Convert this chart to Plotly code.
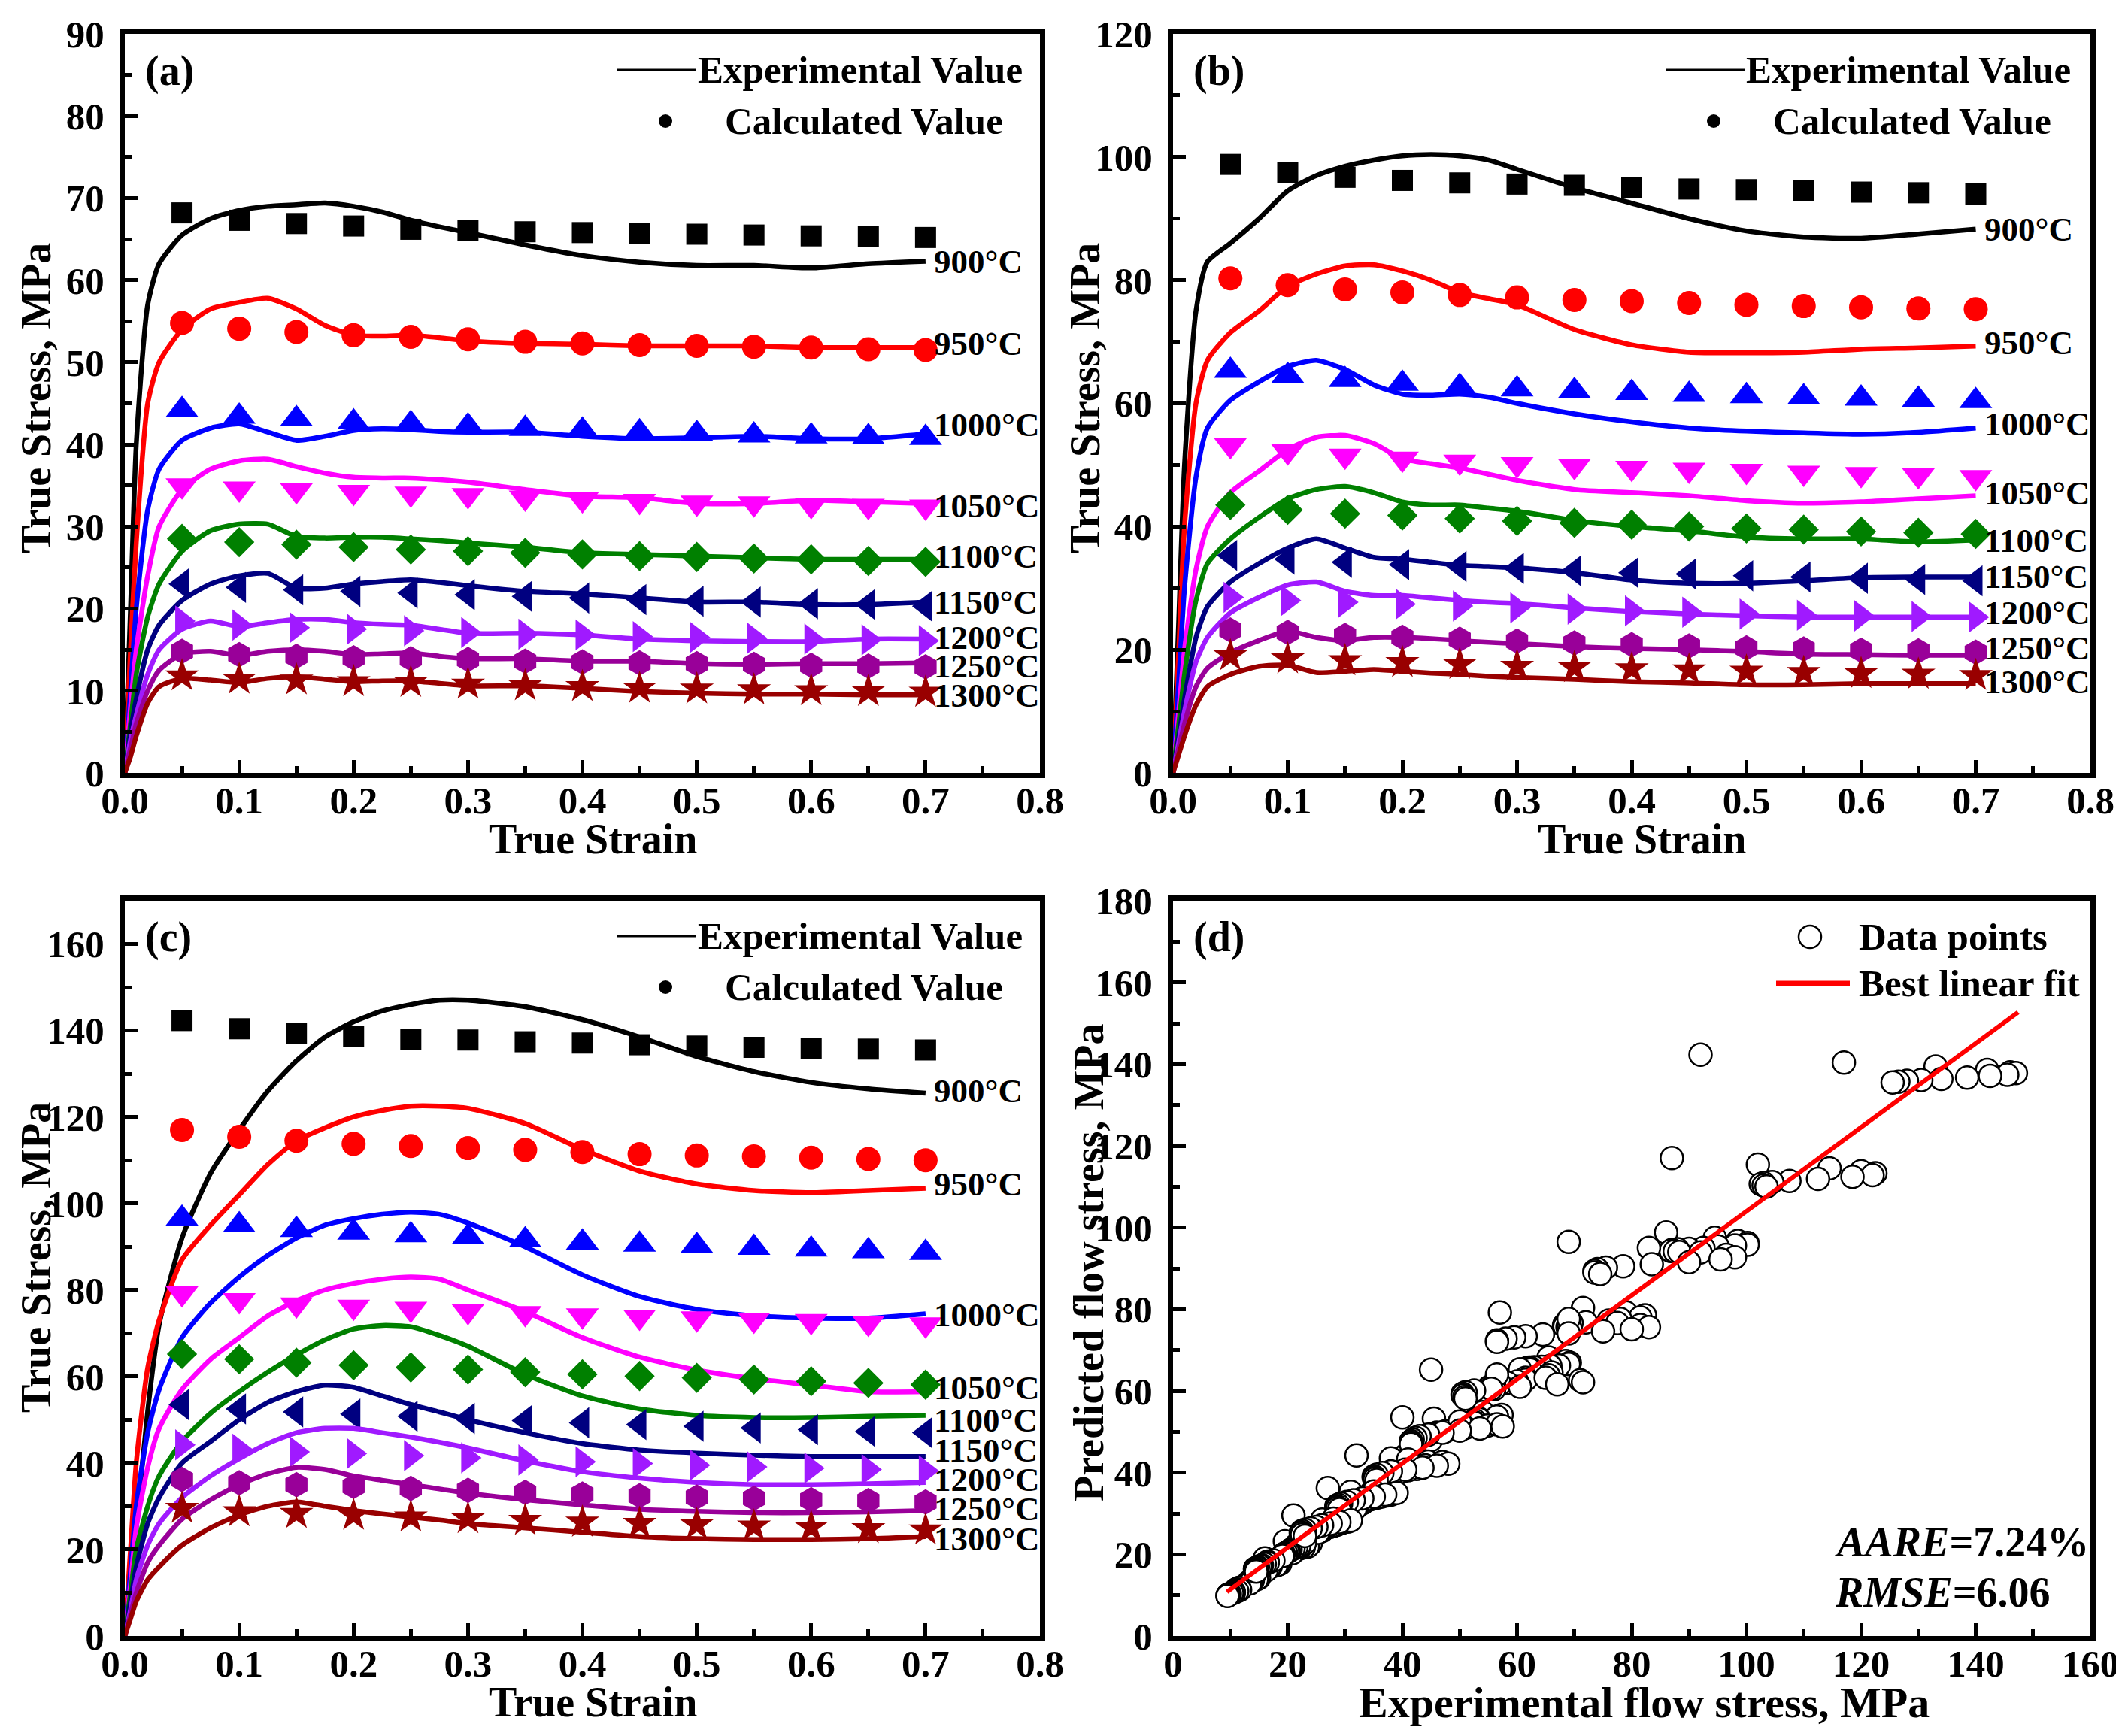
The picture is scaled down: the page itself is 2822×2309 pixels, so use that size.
import plotly.graph_objects as go

W, H = 2822, 2309

# strain grid of the experimental curves and strains of the calculated points
strain = [0, 0.005, 0.01, 0.02, 0.03, 0.05, 0.075, 0.1, 0.125, 0.15, 0.175, 0.2,
          0.225, 0.25, 0.275, 0.3, 0.35, 0.4, 0.45, 0.5, 0.55, 0.6, 0.65, 0.7]
calc_strain = [0.05, 0.1, 0.15, 0.2, 0.25, 0.3, 0.35, 0.4, 0.45, 0.5, 0.55, 0.6, 0.65, 0.7]

temps = ['900°C', '950°C', '1000°C', '1050°C', '1100°C', '1150°C', '1200°C', '1250°C', '1300°C']

# panel (a)
exp_a = [
    [0, 20, 40, 57, 62, 65.5, 67.5, 68.5, 69, 69.2, 69.4, 69, 68.3, 67.3, 66.5, 65.8, 64.3, 63, 62.2, 61.8, 61.8, 61.5, 62, 62.3],
    [0, 15, 28, 45, 50, 54, 56.5, 57.3, 57.8, 56.5, 54.5, 53.3, 53.2, 53.3, 53, 52.6, 52.3, 52.2, 52, 52, 52, 51.8, 51.8, 51.8],
    [0, 10, 20, 32, 37, 40.5, 42, 42.5, 41.5, 40.5, 41, 41.7, 41.9, 41.8, 41.6, 41.5, 41.5, 41, 40.7, 40.8, 41, 40.7, 40.7, 41.3],
    [0, 8, 15, 24, 30, 34.5, 37, 38, 38.2, 37.3, 36.5, 36, 35.9, 35.9, 35.7, 35.4, 34.5, 33.7, 33.5, 32.8, 32.8, 33.2, 33, 32.8],
    [0, 6, 12, 19, 23, 27, 29.5, 30.3, 30.3, 28.8, 28.6, 28.7, 28.7, 28.5, 28.3, 28, 27.5, 26.8, 26.6, 26.4, 26.2, 26, 26, 26],
    [0, 5, 9, 15, 18, 21, 23, 24, 24.3, 22.5, 22.5, 23, 23.3, 23.5, 23.2, 22.8, 22.1, 21.8, 21.3, 20.8, 20.8, 20.5, 20.5, 20.8],
    [0, 4, 7, 12, 15, 17.5, 18.5, 17.8, 18.3, 18.7, 18.7, 18.3, 18.1, 18, 17.5, 17, 17, 16.8, 16.3, 16.1, 16, 16, 16.3, 16.3],
    [0, 3, 6, 10, 12.5, 14.5, 14.8, 14.3, 14.8, 15, 14.8, 14.4, 14.5, 14.6, 14.2, 13.9, 13.9, 13.6, 13.6, 13.3, 13.2, 13.3, 13.3, 13.4],
    [0, 2, 4.5, 8.5, 10.5, 11.5, 11.3, 11, 11.5, 11.7, 11.4, 11.1, 11.2, 11.2, 10.9, 10.6, 10.6, 10.3, 9.9, 9.7, 9.6, 9.6, 9.5, 9.5],
]
calc_a = [
    [68.2, 67.3, 66.9, 66.6, 66.2, 66.1, 65.9, 65.8, 65.7, 65.6, 65.5, 65.4, 65.3, 65.2],
    [54.8, 54.1, 53.7, 53.3, 53.1, 52.8, 52.5, 52.3, 52.1, 52.0, 51.9, 51.8, 51.6, 51.5],
    [44.2, 43.4, 43.1, 42.7, 42.5, 42.2, 41.9, 41.7, 41.5, 41.3, 41.1, 41.0, 40.9, 40.8],
    [35.0, 34.6, 34.4, 34.2, 34.0, 33.8, 33.5, 33.3, 33.1, 32.9, 32.8, 32.6, 32.5, 32.4],
    [28.5, 28.1, 27.8, 27.5, 27.2, 27.0, 26.8, 26.6, 26.4, 26.3, 26.1, 26.0, 25.8, 25.7],
    [23.0, 22.6, 22.3, 22.1, 21.9, 21.7, 21.5, 21.3, 21.1, 20.9, 20.8, 20.6, 20.5, 20.3],
    [18.5, 18.0, 17.7, 17.5, 17.3, 17.1, 16.9, 16.8, 16.6, 16.5, 16.4, 16.3, 16.2, 16.1],
    [14.8, 14.4, 14.2, 14.0, 13.9, 13.8, 13.6, 13.5, 13.4, 13.3, 13.2, 13.1, 13.0, 12.9],
    [11.8, 11.4, 11.3, 11.1, 11.0, 10.8, 10.6, 10.5, 10.3, 10.2, 10.1, 10.0, 9.9, 9.8],
]
label_y_a = [62.3, 52.3, 42.4, 32.5, 26.4, 20.8, 16.5, 13.0, 9.4]

# panel (b)
exp_b = [
    [0, 25, 50, 75, 83, 86, 90, 94.5, 97, 98.5, 99.5, 100.2, 100.4, 100.2, 99.5, 98, 95, 92.5, 90, 88, 87, 86.8, 87.5, 88.3],
    [0, 20, 40, 60, 67, 71.5, 75, 79, 81, 82.3, 82.5, 81.5, 80, 78, 77, 76, 72, 69.5, 68.3, 68.2, 68.3, 68.8, 69, 69.3],
    [0, 15, 30, 48, 56, 60.5, 63.5, 66, 67, 65.5, 63, 61.5, 61.3, 61.5, 61, 60, 58.3, 57, 56, 55.5, 55.2, 55, 55.3, 56],
    [0, 10, 20, 33, 40, 45.5, 49, 52.5, 54.5, 54.8, 53.5, 51, 50.2, 49.5, 48.5, 47.5, 46, 45.5, 45, 44.2, 43.8, 44, 44.5, 45],
    [0, 8, 16, 28, 34, 38, 41.5, 44.5, 46, 46.5, 45.5, 44, 43.5, 43.5, 43, 42.5, 41, 40, 39.3, 38.3, 38, 38, 37.5, 37.8],
    [0, 6, 12, 22, 27, 31, 34, 36.5, 38, 36.5, 35, 34.7, 34.2, 33.7, 33.5, 33.3, 32.5, 31.3, 30.8, 30.8, 31.2, 31.7, 31.8, 31.8],
    [0, 5, 10, 18, 22, 26, 28.5, 30.5, 31, 29.5, 28.8, 28.8, 28.4, 28, 27.7, 27.5, 26.8, 26.2, 25.8, 25.5, 25.3, 25.3, 25.3, 25.3],
    [0, 4, 8, 14, 17, 19.5, 21.5, 23, 22, 21.5, 22, 22, 21.8, 21.5, 21.2, 21, 20.5, 20.2, 20, 19.7, 19.3, 19.2, 19.1, 19.1],
    [0, 3, 6, 11, 14, 16, 17.3, 17.5, 16.3, 16.5, 16.8, 16.5, 16.2, 16, 15.7, 15.5, 15.2, 14.8, 14.6, 14.3, 14.3, 14.5, 14.5, 14.5],
]
calc_b = [
    [98.8, 97.5, 96.7, 96.2, 95.8, 95.6, 95.4, 95.0, 94.8, 94.7, 94.5, 94.3, 94.2, 94.0],
    [80.3, 79.2, 78.5, 78.0, 77.6, 77.2, 76.8, 76.6, 76.3, 76.0, 75.8, 75.6, 75.4, 75.3],
    [65.3, 64.5, 63.8, 63.2, 62.7, 62.3, 62.0, 61.7, 61.4, 61.2, 61.0, 60.8, 60.6, 60.4],
    [53.2, 52.2, 51.5, 51.0, 50.5, 50.1, 49.8, 49.5, 49.2, 49.0, 48.7, 48.5, 48.3, 48.0],
    [43.5, 42.7, 42.1, 41.8, 41.3, 40.9, 40.6, 40.3, 40.0, 39.7, 39.5, 39.2, 39.0, 38.8],
    [35.3, 34.7, 34.2, 33.8, 33.5, 33.2, 32.8, 32.5, 32.3, 32.0, 31.8, 31.6, 31.4, 31.2],
    [28.5, 28.0, 27.7, 27.4, 27.1, 26.8, 26.6, 26.3, 26.1, 25.8, 25.6, 25.5, 25.4, 25.3],
    [23.2, 22.8, 22.3, 22.0, 21.7, 21.4, 21.1, 20.8, 20.6, 20.3, 20.1, 19.9, 19.8, 19.6],
    [19.0, 18.5, 18.2, 17.9, 17.6, 17.3, 17.1, 16.9, 16.7, 16.5, 16.3, 16.1, 16.0, 15.8],
]
label_y_b = [88.3, 69.8, 56.6, 45.4, 37.7, 31.9, 26.0, 20.3, 14.8]

# panel (c)
exp_c = [
    [0, 10, 25, 52, 72, 92, 107, 117, 126, 133, 138.5, 142, 144.5, 146, 147, 147, 145.5, 142.5, 138.5, 134, 130.5, 128, 126.5, 125.5],
    [0, 20, 40, 62, 73, 87, 95, 102, 109, 114.5, 117.5, 120, 121.5, 122.5, 122.5, 122, 118.5, 112.5, 107.5, 104.5, 103, 102.5, 103, 103.5],
    [0, 15, 30, 47, 57, 69, 77, 83, 88, 92, 95, 96.5, 97.5, 98, 97.5, 95.5, 90, 83.5, 78.5, 75.5, 74, 73.5, 73.5, 74.5],
    [0, 12, 25, 39, 48, 57, 64, 69, 74, 77.5, 80, 81.5, 82.5, 83, 82.5, 80, 75, 69, 64.5, 61.5, 59.5, 58, 56.5, 56.5],
    [0, 10, 20, 30, 37, 45, 51.5, 56.5, 61, 65, 68.5, 71, 71.8, 71.5, 69.5, 67, 60.5, 55.5, 52.5, 51, 50.5, 50.5, 50.8, 51],
    [0, 8, 16, 26, 32, 40, 45, 50, 54, 56.5, 58, 57.5, 55.5, 53.5, 51.8, 50, 47, 44.5, 43, 42.3, 41.8, 41.5, 41.5, 41.5],
    [0, 6, 13, 21, 26, 32, 37, 41, 44.5, 47, 48, 48, 47, 46, 44.8, 43.5, 40.5, 38, 36.5, 35.5, 35, 35, 35.2, 35.5],
    [0, 5, 10, 17, 21, 27, 31.5, 35, 37.5, 39, 38.5, 37, 36, 35, 34, 33, 31.5, 30.3, 29.3, 28.8, 28.5, 28.5, 28.7, 29],
    [0, 4, 8, 13, 16, 21, 25, 28, 30, 31, 30, 29, 28.2, 27.5, 26.8, 26, 25, 24, 23, 22.5, 22.3, 22.3, 22.5, 23],
]
calc_c = [
    [142.3, 140.4, 139.4, 138.6, 138.0, 137.8, 137.4, 137.1, 136.7, 136.4, 136.1, 135.9, 135.7, 135.5],
    [117.0, 115.4, 114.5, 113.8, 113.3, 112.8, 112.4, 111.9, 111.4, 111.1, 110.9, 110.6, 110.3, 110.0],
    [96.5, 95.0, 93.9, 93.3, 92.7, 92.2, 91.5, 91.0, 90.5, 90.2, 89.8, 89.4, 89.0, 88.6],
    [79.2, 77.6, 76.6, 76.1, 75.6, 75.1, 74.6, 74.1, 73.8, 73.4, 73.1, 72.8, 72.4, 72.0],
    [65.2, 64.0, 63.2, 62.6, 62.1, 61.6, 61.0, 60.5, 60.1, 59.7, 59.3, 58.9, 58.5, 58.1],
    [53.5, 52.5, 51.8, 51.3, 50.8, 50.3, 49.8, 49.3, 48.9, 48.5, 48.1, 47.7, 47.3, 47.0],
    [44.2, 43.2, 42.6, 42.2, 41.7, 41.2, 40.7, 40.3, 39.9, 39.5, 39.1, 38.8, 38.5, 38.2],
    [36.2, 35.4, 35.0, 34.6, 34.1, 33.7, 33.2, 32.8, 32.4, 32.1, 31.8, 31.5, 31.3, 31.0],
    [29.5, 28.7, 28.3, 27.9, 27.5, 27.1, 26.7, 26.3, 26.0, 25.7, 25.4, 25.1, 24.8, 24.5],
]
label_y_c = [126, 104.5, 74.2, 57.4, 49.9, 43.0, 36.2, 29.3, 22.5]

# panel (d): best linear fit end points
fit_x = [9.4, 147.4]
fit_y = [10.8, 152.7]

colors = ['#000000', '#ff0000', '#0000ff', '#ff00ff', '#008000', '#000080', '#a01aff', '#990099', '#990000']
symbols = ['square', 'circle', 'triangle-up', 'triangle-down', 'diamond',
           'triangle-left', 'triangle-right', 'hexagon', 'star']
sizes = [28, 32, 38, 38, 31, 36, 36, 34, 34]

FONT = 'Liberation Serif'


def px(x):
    return x / W


def py(y):
    return 1 - y / H


fig = go.Figure()

panels = [('x', 'y', exp_a, calc_a, label_y_a),
          ('x2', 'y2', exp_b, calc_b, label_y_b),
          ('x3', 'y3', exp_c, calc_c, label_y_c)]

annotations = []
for xa, ya, exps, calcs, laby in panels:
    for i in range(len(temps)):
        fig.add_trace(go.Scatter(x=strain, y=exps[i], xaxis=xa, yaxis=ya, mode='lines',
                                 line=dict(color=colors[i], width=6.5, shape='spline', smoothing=0.6),
                                 showlegend=False, hoverinfo='skip'))
        fig.add_trace(go.Scatter(x=calc_strain, y=calcs[i], xaxis=xa, yaxis=ya, mode='markers',
                                 marker=dict(symbol=symbols[i], size=sizes[i], color=colors[i]),
                                 showlegend=False))
        annotations.append(dict(x=0.706, y=laby[i], xref=xa, yref=ya, text=temps[i],
                                showarrow=False, xanchor='left', yanchor='middle',
                                font=dict(family=FONT, size=45, color='black', weight='bold')))

# scatter of experimental vs calculated values
idx = [strain.index(s) for s in calc_strain]
exp_pts, calc_pts = [], []
for exps, calcs in [(exp_a, calc_a), (exp_b, calc_b), (exp_c, calc_c)]:
    for e, c in zip(exps, calcs):
        exp_pts += [e[k] for k in idx]
        calc_pts += c
fig.add_trace(go.Scatter(x=exp_pts, y=calc_pts, xaxis='x4', yaxis='y4', mode='markers',
                         marker=dict(symbol='circle', size=30, color='white',
                                     line=dict(color='black', width=2.5)),
                         showlegend=False))
fig.add_trace(go.Scatter(x=fit_x, y=fit_y, xaxis='x4', yaxis='y4', mode='lines',
                         line=dict(color='#ff0000', width=6), showlegend=False))

# axes
tickfont = dict(family=FONT, size=51, color='black', weight='bold')


def axis(domain, rng, dtick, minor_dtick, anchor, fmt=None, standoff=10):
    d = dict(domain=domain, range=rng, anchor=anchor, dtick=dtick, tick0=0,
             showline=True, linewidth=7, linecolor='black', mirror=True,
             ticks='inside', ticklen=17, tickwidth=5, tickcolor='black',
             showgrid=False, zeroline=False, tickfont=tickfont, ticklabelstandoff=standoff,
             automargin=False,
             minor=dict(ticks='inside', ticklen=9, tickwidth=5, tickcolor='black',
                        dtick=minor_dtick, tick0=0, showgrid=False))
    if fmt:
        d['tickformat'] = fmt
    return d


xl = [px(158), px(1375)]
xr = [px(1552), px(2772)]
yt = [py(1020), py(37)]
yb = [py(2168), py(1190)]

fig.update_layout(
    xaxis=axis(xl, [0, 0.8], 0.1, 0.05, 'y', '.1f', -14),
    yaxis=axis(yt, [0, 90], 10, 5, 'x'),
    xaxis2=axis(xr, [0, 0.8], 0.1, 0.05, 'y2', '.1f', -14),
    yaxis2=axis(yt, [0, 120], 20, 10, 'x2'),
    xaxis3=axis(xl, [0, 0.8], 0.1, 0.05, 'y3', '.1f', -14),
    yaxis3=axis(yb, [0, 170], 20, 10, 'x3'),
    xaxis4=axis(xr, [0, 160], 20, 10, 'y4', None, -14),
    yaxis4=axis(yb, [0, 180], 20, 10, 'x4'),
)


def text(x, y, s, size=56, xanchor='center', angle=0):
    annotations.append(dict(x=px(x), y=py(y), xref='paper', yref='paper', text=s,
                            showarrow=False, xanchor=xanchor, yanchor='middle', textangle=angle,
                            font=dict(family=FONT, size=size, color='black', weight='bold')))


# axis titles
text(780, 1108, 'True Strain')
text(2175, 1108, 'True Strain')
text(780, 2256, 'True Strain')
text(2178, 2256, 'Experimental flow stress, MPa', size=58)
text(40, 522, 'True Stress, MPa', angle=-90)
text(1435, 522, 'True Stress, MPa', angle=-90)
text(40, 1665, 'True Stress, MPa', angle=-90)
text(1440, 1671, 'Predicted flow stress, MPa', angle=-90)

# panel labels
text(183, 86, '(a)', xanchor='left')
text(1577, 86, '(b)', xanchor='left')
text(183, 1238, '(c)', xanchor='left')
text(1577, 1238, '(d)', xanchor='left')

shapes = []
# legends of panels (a)-(c)
for left, top in [(158, 85), (1552, 85), (158, 1237)]:
    shapes.append(dict(type='line', xref='paper', yref='paper',
                       x0=px(left + 655), x1=px(left + 760), y0=py(top), y1=py(top),
                       line=dict(color='black', width=3)))
    shapes.append(dict(type='circle', xref='paper', yref='paper', fillcolor='black',
                       line=dict(color='black', width=0),
                       x0=px(left + 710), x1=px(left + 728), y0=py(top + 59), y1=py(top + 77)))
    text(left + 760, top, 'Experimental Value', size=51, xanchor='left')
    text(left + 796, top + 68, 'Calculated Value', size=51, xanchor='left')

# legend of panel (d)
shapes.append(dict(type='circle', xref='paper', yref='paper', fillcolor='white',
                   line=dict(color='black', width=2.5),
                   x0=px(2384), x1=px(2414), y0=py(1253), y1=py(1223)))
shapes.append(dict(type='line', xref='paper', yref='paper',
                   x0=px(2354), x1=px(2452), y0=py(1300), y1=py(1300),
                   line=dict(color='#ff0000', width=7)))
text(2462, 1238, 'Data points', size=51, xanchor='left')
text(2462, 1300, 'Best linear fit', size=51, xanchor='left')

text(2430, 2043, '<i>AARE</i>=7.24%', size=56, xanchor='left')
text(2430, 2110, '<i>RMSE</i>=6.06', size=56, xanchor='left')

fig.update_layout(width=W, height=H,
                  margin=dict(l=0, r=0, t=0, b=0, pad=0, autoexpand=False),
                  paper_bgcolor='white', plot_bgcolor='white',
                  annotations=annotations, shapes=shapes, showlegend=False)

fig.write_html("out.html")
